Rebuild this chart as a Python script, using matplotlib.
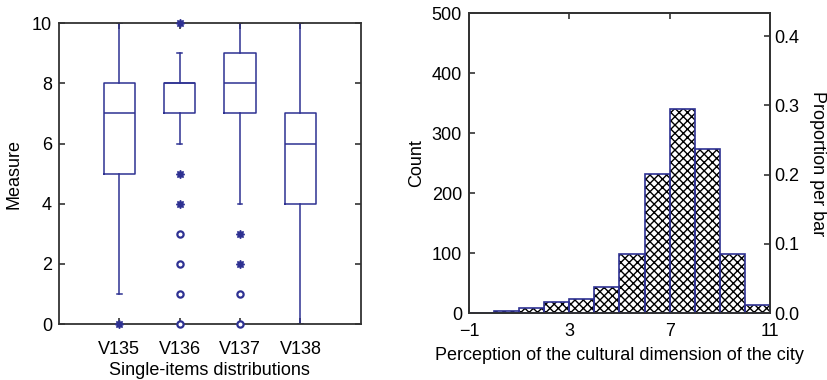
import numpy as np
import matplotlib.pyplot as plt
from matplotlib.ticker import FormatStrFormatter

plt.rcParams['font.family'] = ['Liberation Sans', 'DejaVu Sans']
plt.rcParams['font.size'] = 13
plt.rcParams['hatch.linewidth'] = 1.0

navy = '#2e3192'
spine_col = '#333333'

# Box plot summaries
items = ['V135', 'V136', 'V137', 'V138']
whislo = [1, 6, 4, 0]
q1 = [5, 7, 7, 4]
med = [7, 8, 8, 6]
q3 = [8, 8, 9, 7]
whishi = [10, 9, 10, 10]
# outside values (asterisk) and far outside values (circle)
outside = [[0], [4, 5, 10], [2, 3], []]
far_out = [[], [0, 1, 2, 3], [0, 1], []]

# Histogram counts, bins of width 1 from -1 to 11
bin_edges = [-1, 0, 1, 2, 3, 4, 5, 6, 7, 8, 9, 10, 11]
counts = [1, 3, 8, 18, 24, 44, 99, 232, 340, 274, 99, 13]

fig = plt.figure(figsize=(8.27, 3.8), dpi=100)

# ---- left: box plots
ax = fig.add_axes([0.0713, 0.147, 0.365, 0.792])
stats = []
for i in range(len(items)):
    stats.append(dict(label=items[i], whislo=whislo[i], q1=q1[i], med=med[i],
                      q3=q3[i], whishi=whishi[i], fliers=[]))
pos = np.arange(1, len(items) + 1)
ax.bxp(stats, positions=pos, widths=0.52, showfliers=False, showcaps=True,
       boxprops=dict(color=navy, lw=1.1),
       whiskerprops=dict(color=navy, lw=1.1),
       capprops=dict(color=navy, lw=1.1),
       medianprops=dict(color=navy, lw=1.1),
       capwidths=0.08)
for p, vals in zip(pos, outside):
    ax.plot([p] * len(vals), vals, ls='none', marker=(8, 1, 0), ms=6,
            color=navy, clip_on=False, zorder=5)
for p, vals in zip(pos, far_out):
    ax.plot([p] * len(vals), vals, ls='none', marker='o', ms=4.5, mfc='white',
            mec=navy, mew=1.6, clip_on=False, zorder=5)
ax.set_xlim(0, 5)
ax.set_ylim(0, 10)
ax.set_yticks([0, 2, 4, 6, 8, 10])
ax.set_xticks(pos)
ax.set_xticklabels(items)
ax.tick_params(direction='in', length=4, top=True, right=True,
               color=spine_col, width=1.2, labelsize=13)
ax.tick_params(axis='x', pad=12)
ax.tick_params(axis='y', pad=5)
ax.set_ylabel('Measure', fontsize=13, labelpad=7)
ax.set_xlabel('Single-items distributions', fontsize=13, labelpad=3)
for s in ax.spines.values():
    s.set_color(spine_col)
    s.set_linewidth(1.3)

# ---- right: histogram with proportion axis
ax1 = fig.add_axes([0.567, 0.176, 0.364, 0.789])
left = bin_edges[:-1]
w = np.diff(bin_edges)
ax1.bar(left, counts, width=w, align='edge', color='white', edgecolor='black',
        hatch='xxxx', linewidth=0, zorder=2)
ax1.bar(left, counts, width=w, align='edge', fill=False, edgecolor=navy,
        linewidth=1.2, zorder=3)
ax1.set_xlim(-1, 11)
ax1.set_ylim(0, 500)
ax1.set_xticks([-1, 3, 7, 11])
ax1.set_xticklabels(['\u22121', '3', '7', '11'])
ax1.set_yticks([0, 100, 200, 300, 400, 500])
ax1.tick_params(direction='in', length=4, top=True, color=spine_col,
                width=1.2, labelsize=13)
ax1.tick_params(axis='x', pad=7)
ax1.tick_params(axis='y', pad=5)
ax1.set_ylabel('Count', fontsize=13, labelpad=5)
ax1.set_xlabel('Perception of the cultural dimension of the city', fontsize=13,
               labelpad=5)

total = sum(counts)
ax2 = ax1.twinx()
ax2.set_ylim(0, 500 / total)
ax2.set_yticks([0.0, 0.1, 0.2, 0.3, 0.4])
ax2.yaxis.set_major_formatter(FormatStrFormatter('%.1f'))
ax2.tick_params(direction='in', length=4, color=spine_col, width=1.2,
                labelsize=13, pad=3)
ax2.set_ylabel('Proportion per bar', fontsize=13, rotation=-90, labelpad=19)
for a in (ax1, ax2):
    for s in a.spines.values():
        s.set_color(spine_col)
        s.set_linewidth(1.3)

fig.savefig('out.png', dpi=100)
